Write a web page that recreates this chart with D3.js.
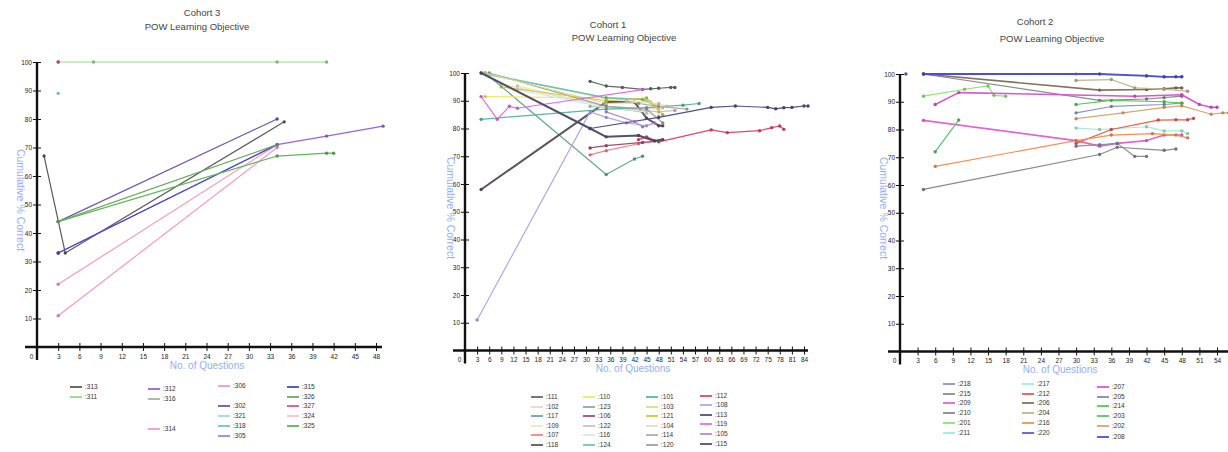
<!DOCTYPE html>
<html>
<head>
<meta charset="utf-8">
<script src="https://cdn.jsdelivr.net/npm/d3@7"></script>
<style>
  body { margin: 0; background: #fff; }
  svg { display: block; }
  text { font-family: "Liberation Sans", Arial, sans-serif; }
</style>
</head>
<body>
<svg id="chart" width="1228" height="452"></svg>
<script>
// ---------- Cohort 3 : [no. of questions, cumulative % correct] ----------
const c3s313 = [[1, 67], [4, 33], [35, 79]];
const c3s311 = [[3, 100], [8, 100], [34, 100], [41, 100]];
const c3s312 = [[3, 33], [34, 71], [41, 74], [49, 77.5]];
const c3s316 = [];
const c3s314 = [[3, 11], [34, 70]];
const c3s306 = [[3, 22], [34, 71]];
const c3s302 = [[3, 44], [34, 80]];
const c3s321 = [[3, 89]];
const c3s318 = [];
const c3s305 = [];
const c3s315 = [[3, 33], [34, 71]];
const c3s326 = [[3, 44], [34, 71]];
const c3s327 = [[3, 100]];
const c3s324 = [];
const c3s325 = [[3, 44], [34, 67], [41, 68], [42, 68]];

// ---------- Cohort 1 ----------
const c1s111 = [[31, 97], [35, 95.3], [39, 94.8], [44, 94.1], [46, 94.3], [48, 94.5], [51, 94.8], [52, 94.8]];
const c1s102 = [[9, 96], [35, 88], [48, 87]];
const c1s117 = [[5, 100], [35, 63.4], [42, 69], [44, 70]];
const c1s109 = [[13, 95.3], [35, 88], [45, 85.5], [48, 84.5]];
const c1s107 = [[31, 70.5], [35, 72], [43, 74.5], [48, 75.5]];
const c1s118 = [[4, 58], [35, 89.6], [42, 89.5], [45, 83.7], [48, 81], [49, 81]];
const c1s110 = [[5, 91.5], [35, 91], [44, 90.6], [47, 88]];
const c1s123 = [[6, 100], [35, 88], [44, 86]];
const c1s106 = [[31, 73], [35, 73.8], [44, 75], [48, 75.5]];
const c1s122 = [[31, 88], [40, 87], [48, 86], [52, 86.5]];
const c1s116 = [[13, 94], [35, 87.5], [45, 86]];
const c1s124 = [[4, 100], [35, 91], [44, 90.5], [48, 88]];
const c1s101 = [[4, 83.3], [35, 87], [45, 87.5], [54, 88.4], [58, 89]];
const c1s103 = [[5, 100], [35, 89], [46, 89.5], [49, 87.5]];
const c1s121 = [[9, 95], [35, 90], [45, 91], [49, 85]];
const c1s104 = [[40, 90], [48, 89], [50, 88]];
const c1s114 = [[43, 89], [48, 88], [55, 87]];
const c1s120 = [[35, 88], [45, 87], [49, 82]];
const c1s112 = [[43, 76], [45, 77], [48, 75.2], [61, 79.5], [65, 78.5], [73, 79.2], [76, 80.3], [78, 80.9], [79, 79.7]];
const c1s108 = [[3, 11], [31, 86], [35, 84], [40, 82], [45, 81]];
const c1s113 = [[31, 80], [48, 84], [61, 87.6], [67, 88.1], [75, 87.6], [77, 87.1], [79, 87.5], [81, 87.6], [84, 88.1], [85, 88.1]];
const c1s119 = [[4, 91.5], [8, 83.3], [11, 88], [13, 87.3], [44, 94]];
const c1s105 = [[35, 86], [42, 82.5], [44, 80.6], [47, 82]];
const c1s115 = [[4, 100], [31, 80], [35, 77], [43, 77.5], [47, 75.5], [49, 76]];

// ---------- Cohort 2 ----------
const c2s218 = [[30, 86], [36, 88.3], [45, 89], [48, 89.5]];
const c2s215 = [[4, 100], [34, 90.5], [42, 91], [45, 91.5], [48, 92]];
const c2s209 = [[4, 83.3], [30, 76], [34, 74], [37, 75], [42, 76], [45, 78], [48, 78]];
const c2s210 = [[4, 58.4], [34, 71], [37, 73.6], [45, 72.5], [47, 73]];
const c2s201 = [[4, 92], [11, 94.5], [15, 95.7], [16, 92.3], [18, 92]];
const c2s211 = [[30, 80.5], [34, 80], [42, 81], [45, 79.5], [48, 79.5], [49, 78.5]];
const c2s217 = [[30, 100], [42, 99.5], [45, 99], [48, 99]];
const c2s212 = [[30, 75], [36, 80], [44, 83.4], [47, 83.5], [49, 83.5], [50, 84]];
const c2s206 = [[4, 100], [34, 94.2], [42, 94.4], [45, 94.7], [47, 95], [48, 95]];
const c2s204 = [[30, 97.7], [36, 98], [40, 95], [45, 94.5], [49, 93.8]];
const c2s216 = [[6, 66.7], [30, 76], [36, 78], [43, 78.5], [47, 78], [49, 77]];
const c2s220 = [[1, 100]];
const c2s207 = [[6, 89], [10, 93.3], [40, 92], [48, 92.5], [51, 89], [53, 88], [54, 88]];
const c2s205 = [[30, 74], [34, 74.5], [37, 75], [40, 70.3], [42, 70.3]];
const c2s214 = [[30, 89], [36, 90.5], [45, 90], [48, 89.5]];
const c2s203 = [[6, 72], [10, 83.4]];
const c2s202 = [[30, 83.9], [38, 86], [45, 88], [48, 88.5], [53, 85.5], [55, 86], [56, 86]];
const c2s208 = [[4, 100], [34, 100], [42, 99.3], [45, 99], [47, 99], [48, 99]];

// Series lists: [legend label, values]
const cohort3 = [
  [":313", c3s313], [":311", c3s311], [":312", c3s312], [":316", c3s316], [":314", c3s314],
  [":306", c3s306], [":302", c3s302], [":321", c3s321], [":318", c3s318], [":305", c3s305],
  [":315", c3s315], [":326", c3s326], [":327", c3s327], [":324", c3s324], [":325", c3s325]
];
const cohort1 = [
  [":111", c1s111], [":102", c1s102], [":117", c1s117], [":109", c1s109], [":107", c1s107], [":118", c1s118],
  [":110", c1s110], [":123", c1s123], [":106", c1s106], [":122", c1s122], [":116", c1s116], [":124", c1s124],
  [":101", c1s101], [":103", c1s103], [":121", c1s121], [":104", c1s104], [":114", c1s114], [":120", c1s120],
  [":112", c1s112], [":108", c1s108], [":113", c1s113], [":119", c1s119], [":105", c1s105], [":115", c1s115]
];
const cohort2 = [
  [":218", c2s218], [":215", c2s215], [":209", c2s209], [":210", c2s210], [":201", c2s201], [":211", c2s211],
  [":217", c2s217], [":212", c2s212], [":206", c2s206], [":204", c2s204], [":216", c2s216], [":220", c2s220],
  [":207", c2s207], [":205", c2s205], [":214", c2s214], [":203", c2s203], [":202", c2s202], [":208", c2s208]
];

const yTickValues = [10, 20, 30, 40, 50, 60, 70, 80, 90, 100];
const xTicks3 = d3.range(0, 49, 3);
const xTicks1 = d3.range(0, 85, 3);
const xTicks2 = d3.range(0, 55, 3);

// ---------- styling ----------
const colors = {
  ":313": "#5a5a5a", ":311": "#96dc86", ":312": "#9a62d8", ":316": "#a4b49c", ":314": "#f29ac6",
  ":306": "#f09cbc", ":302": "#6a58a8", ":321": "#9edccc", ":318": "#72c8b0", ":305": "#9a86e2",
  ":315": "#4848c8", ":326": "#6caa66", ":327": "#e4508a", ":324": "#f4c0d8", ":325": "#62b45e",

  ":111": "#646a64", ":102": "#e6dcbc", ":117": "#6aa88e", ":109": "#e4ecbc", ":107": "#f0848a", ":118": "#5e5460",
  ":110": "#eeea5a", ":123": "#8aaaa4", ":106": "#a24e78", ":122": "#c4c4c4", ":116": "#d6e8e6", ":124": "#78c4a4",
  ":101": "#58b89e", ":103": "#e6d692", ":121": "#d6c63e", ":104": "#e6dccc", ":114": "#b6ae9e", ":120": "#a2a2a2",
  ":112": "#e04868", ":108": "#b2a8e6", ":113": "#4c5282", ":119": "#e070e4", ":105": "#b08ed2", ":115": "#54506a",

  ":218": "#8a94c4", ":215": "#8c8c8c", ":209": "#e266cc", ":210": "#8a8a8e", ":201": "#8ee478", ":211": "#9ceed6",
  ":217": "#9eeed2", ":212": "#ee5a4c", ":206": "#7e765e", ":204": "#c4b48e", ":216": "#f49050", ":220": "#5c5cd6",
  ":207": "#d858d0", ":205": "#8a8aa0", ":214": "#58c858", ":203": "#5cc070", ":202": "#d6a870", ":208": "#4c50d0"
};
// heavier strokes for a few series
const strokeWidths = { ":118": 2, ":115": 2, ":124": 1.8, ":208": 1.8, ":206": 1.6, ":207": 1.6, ":209": 1.6 };

const labelBlue = "#93aef2";
const svg = d3.select("#chart");

// legend slot positions (swatch x, row y) per label
const legendSlots = {
  ":313": [70, 387], ":311": [70, 397],
  ":312": [148, 389], ":316": [148, 399], ":314": [148, 429],
  ":306": [218, 386], ":302": [218, 406], ":321": [218, 416], ":318": [218, 426], ":305": [218, 436],
  ":315": [287, 387], ":326": [287, 397], ":327": [287, 406], ":324": [287, 416], ":325": [287, 426]
};
function gridSlots(labels, rows, colX, rowY) {
  labels.forEach((l, i) => {
    const c = Math.floor(i / rows), r = i % rows;
    legendSlots[l] = [colX[c], rowY[c][r]];
  });
}
gridSlots(cohort1.map(d => d[0]), 6, [531, 583, 646, 700],
  [[397, 407, 416, 426, 435, 445], [397, 407, 416, 426, 435, 445],
   [397, 407, 416, 426, 435, 445], [396, 405, 415, 424, 434, 444]]);
gridSlots(cohort2.map(d => d[0]), 6, [943, 1022, 1097],
  [[384, 394, 403, 413, 423, 433], [384, 394, 403, 413, 423, 433], [387, 397, 406, 416, 426, 437]]);

const panels = [
  { title: "Cohort 3", titleX: 202, titleY: 16, subX: 197, subY: 30,
    series: cohort3, xMax: 48, xTicks: xTicks3,
    xRange: [37, 376], yRange: [347, 62], axisLeftExt: 12, axisRightExt: 6, yBottomExt: 13,
    yLabelX: 17, yLabelY: 200, xLabelX: 207, xLabelY: 369 },
  { title: "Cohort 1", titleX: 608, titleY: 28, subX: 624, subY: 41,
    series: cohort1, xMax: 84, xTicks: xTicks1,
    xRange: [465, 804], yRange: [350.5, 73], axisLeftExt: 12, axisRightExt: 4, yBottomExt: 13,
    yLabelX: 447, yLabelY: 208, xLabelX: 633, xLabelY: 372 },
  { title: "Cohort 2", titleX: 1035, titleY: 25, subX: 1052, subY: 42,
    series: cohort2, xMax: 54, xTicks: xTicks2,
    xRange: [900, 1217], yRange: [351.5, 74], axisLeftExt: 12, axisRightExt: 11, yBottomExt: 13,
    yLabelX: 880, yLabelY: 208, xLabelX: 1060, xLabelY: 373 }
];

panels.forEach(p => {
  const g = svg.append("g");
  const x = d3.scaleLinear().domain([0, p.xMax]).range(p.xRange);
  const y = d3.scaleLinear().domain([0, 100]).range(p.yRange);

  // titles
  g.append("text").attr("x", p.titleX).attr("y", p.titleY).attr("text-anchor", "middle")
    .attr("font-size", 9.5).attr("fill", "#444").text(p.title);
  g.append("text").attr("x", p.subX).attr("y", p.subY).attr("text-anchor", "middle")
    .attr("font-size", 9.5).attr("fill", "#444").text("POW Learning Objective");

  // x axis ticks
  const xAxis = d3.axisBottom(x).tickValues(p.xTicks).tickSize(0).tickPadding(0);
  const gx = g.append("g").attr("transform", `translate(0,${y(0)})`).call(xAxis);
  gx.select(".domain").remove();
  gx.selectAll(".tick line").attr("y1", -4).attr("y2", 4).attr("stroke", "#111").attr("stroke-width", 1);
  gx.selectAll(".tick text").attr("y", 7).attr("dy", "0.71em").attr("font-size", 6.5)
    .attr("font-family", "Liberation Serif, serif").attr("fill", "#222")
    .attr("dx", d => d === 0 ? -6 : 0);

  // y axis ticks
  const yAxis = d3.axisLeft(y).tickValues(yTickValues).tickSize(0).tickPadding(0);
  const gy = g.append("g").attr("transform", `translate(${x(0)},0)`).call(yAxis);
  gy.select(".domain").remove();
  gy.selectAll(".tick line").attr("x1", -4).attr("x2", 4).attr("stroke", "#111").attr("stroke-width", 1);
  gy.selectAll(".tick text").attr("x", -5).attr("font-size", 6.5)
    .attr("font-family", "Liberation Serif, serif").attr("fill", "#222");

  // axis lines
  g.append("line").attr("x1", p.xRange[0] - p.axisLeftExt).attr("x2", p.xRange[1] + p.axisRightExt)
    .attr("y1", y(0)).attr("y2", y(0)).attr("stroke", "#111").attr("stroke-width", 2.4);
  g.append("line").attr("x1", x(0)).attr("x2", x(0))
    .attr("y1", y(100)).attr("y2", y(0) + p.yBottomExt).attr("stroke", "#111").attr("stroke-width", 2.4);

  // axis titles
  g.append("text").attr("transform", `translate(${p.yLabelX},${p.yLabelY}) rotate(90)`)
    .attr("text-anchor", "middle").attr("font-size", 10.5).attr("fill", labelBlue)
    .text("Cumulative % Correct");
  g.append("text").attr("x", p.xLabelX).attr("y", p.xLabelY).attr("text-anchor", "middle")
    .attr("font-size", 10).attr("fill", labelBlue).text("No. of Questions");

  // series lines + markers
  const line = d3.line().x(d => x(d[0])).y(d => y(d[1]));
  p.series.forEach(([label, vals]) => {
    if (!vals.length) return;
    const c = colors[label];
    if (vals.length > 1) {
      g.append("path").datum(vals).attr("d", line).attr("fill", "none")
        .attr("stroke", c).attr("stroke-width", strokeWidths[label] || 1.2)
        .attr("stroke-linejoin", "round");
    }
    g.selectAll(null).data(vals).enter().append("circle")
      .attr("cx", d => x(d[0])).attr("cy", d => y(d[1])).attr("r", 1.7)
      .attr("fill", d3.color(c).darker(0.5));
  });

  // legend
  p.series.forEach(([label]) => {
    const [sx, sy] = legendSlots[label];
    g.append("line").attr("x1", sx).attr("x2", sx + 12).attr("y1", sy).attr("y2", sy)
      .attr("stroke", colors[label]).attr("stroke-width", 1.8);
    g.append("text").attr("x", sx + 15).attr("y", sy + 2.3).attr("font-size", 6.5)
      .attr("font-family", "Liberation Serif, serif").attr("fill", "#333").text(label);
  });
});
</script>
</body>
</html>
